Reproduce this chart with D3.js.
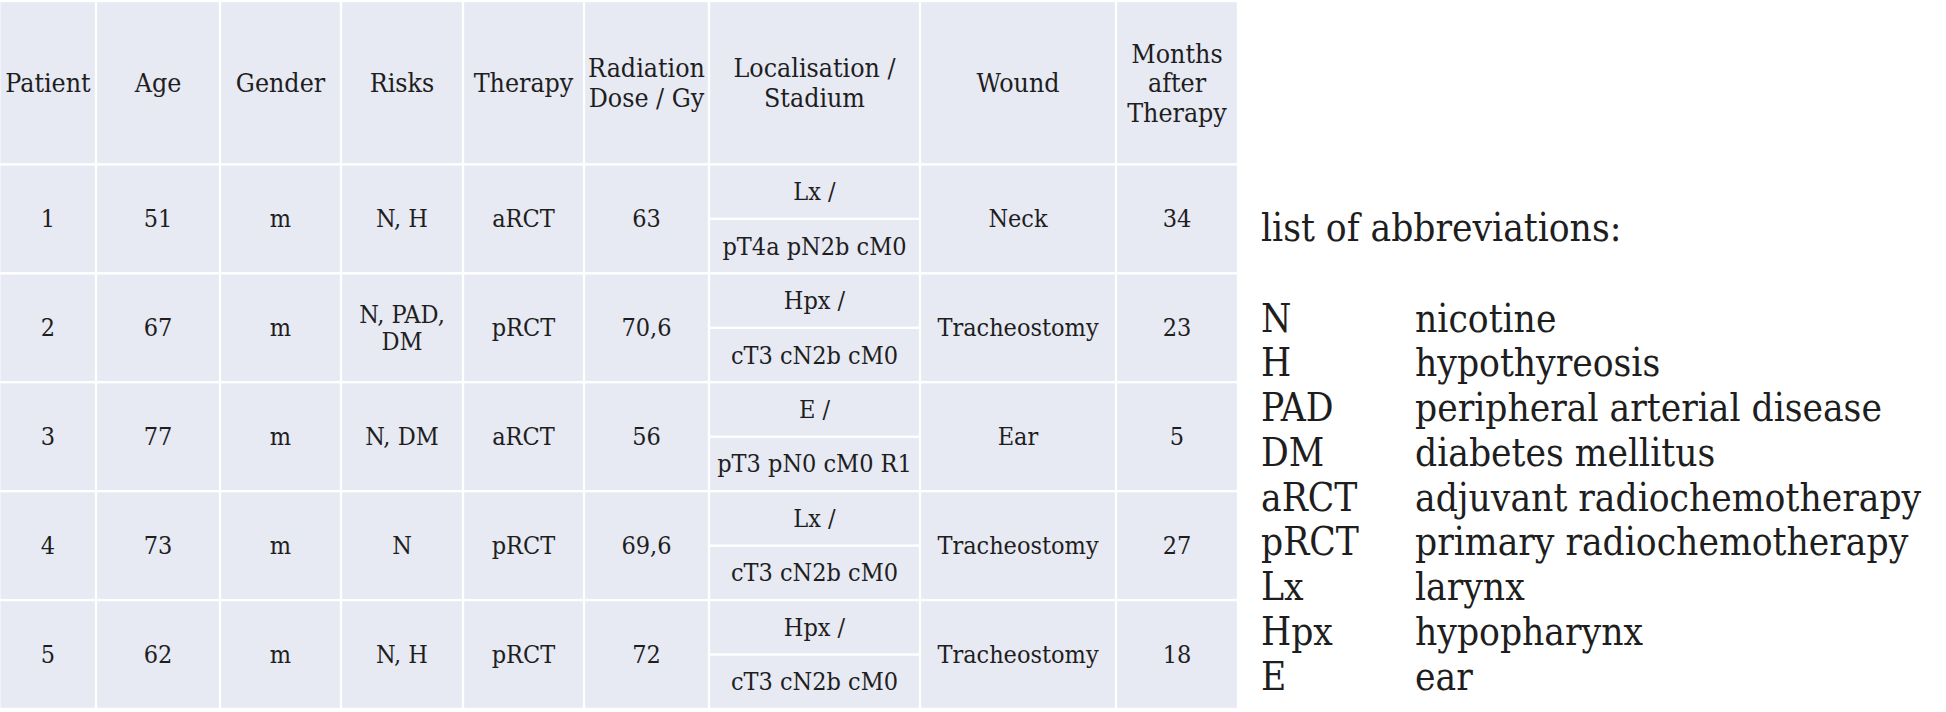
<!DOCTYPE html>
<html>
<head>
<meta charset="utf-8">
<script src="https://cdn.jsdelivr.net/npm/d3@7"></script>
<style>
  html, body { margin: 0; padding: 0; background: #ffffff; }
  svg { display: block; }
  text { font-family: "DejaVu Serif Condensed", "DejaVu Serif", serif; font-stretch: condensed; fill: #1e1e1e; }
</style>
</head>
<body>
<svg id="chart" width="1946" height="712"></svg>
<script>
// ---------- data ----------
const headers = [
  ["Patient"], ["Age"], ["Gender"], ["Risks"], ["Therapy"],
  ["Radiation", "Dose / Gy"], ["Localisation /", "Stadium"], ["Wound"],
  ["Months", "after", "Therapy"]
];
const patients = ["1", "2", "3", "4", "5"];
const ages = ["51", "67", "77", "73", "62"];
const genders = ["m", "m", "m", "m", "m"];
const risks = [["N, H"], ["N, PAD,", "DM"], ["N, DM"], ["N"], ["N, H"]];
const therapies = ["aRCT", "pRCT", "aRCT", "pRCT", "pRCT"];
const doses = ["63", "70,6", "56", "69,6", "72"];
const localisations = ["Lx /", "Hpx /", "E /", "Lx /", "Hpx /"];
const stadiums = ["pT4a pN2b cM0", "cT3 cN2b cM0", "pT3 pN0 cM0 R1", "cT3 cN2b cM0", "cT3 cN2b cM0"];
const wounds = ["Neck", "Tracheostomy", "Ear", "Tracheostomy", "Tracheostomy"];
const months = ["34", "23", "5", "27", "18"];
const abbrevTitle = "list of abbreviations:";
const abbrevKeys = ["N", "H", "PAD", "DM", "aRCT", "pRCT", "Lx", "Hpx", "E"];
const abbrevValues = ["nicotine", "hypothyreosis", "peripheral arterial disease", "diabetes mellitus",
  "adjuvant radiochemotherapy", "primary radiochemotherapy", "larynx", "hypopharynx", "ear"];

// ---------- layout ----------
const colWidths = [96, 124, 121, 122, 121, 125, 211, 196, 122];
const colEdges = [0];
colWidths.forEach(w => colEdges.push(colEdges[colEdges.length - 1] + w));
const colIdx = d3.range(colEdges.length);
const x = d3.scaleLinear().domain(colIdx).range(colEdges.map(e => e * (1238 / colEdges[colEdges.length - 1])));
// rows in units: header = 1.5 units, each patient row = 1 unit
const y = d3.scaleLinear().domain([0, 1.5 + patients.length]).range([1, 709]);
const gap = 1.2;
const cellFill = "#e7e9f3";
const headFs = 26.5;
const bodyFs = 25;
const lh = 29.5;

const svg = d3.select("#chart");
const g = svg.append("g");

function cell(c0, c1, yA, yB) {
  g.append("rect")
    .attr("x", x(c0) + (c0 === 0 ? 0.5 : gap))
    .attr("y", y(yA) + gap)
    .attr("width", x(c1) - x(c0) - (c0 === 0 ? 0.5 + gap : 2 * gap))
    .attr("height", y(yB) - y(yA) - 2 * gap)
    .attr("fill", cellFill);
}
function label(c0, c1, yA, yB, lines, size, spacing) {
  const cx = (x(c0) + x(c1)) / 2;
  const cy = (y(yA) + y(yB)) / 2;
  const n = lines.length;
  lines.forEach((t, i) => {
    g.append("text")
      .attr("x", cx)
      .attr("y", cy + (i - (n - 1) / 2) * (spacing || lh))
      .attr("text-anchor", "middle")
      .attr("dominant-baseline", "central")
      .style("font-size", size + "px")
      .text(t);
  });
}

// header
headers.forEach((h, i) => {
  cell(i, i + 1, 0, 1.5);
  label(i, i + 1, 0, 1.5, h, headFs);
});

// body rows
patients.forEach((p, r) => {
  const yA = 1.5 + r, yB = 2.5 + r, yM = 2 + r;
  const simple = [[p], [ages[r]], [genders[r]], risks[r], [therapies[r]], [doses[r]]];
  simple.forEach((val, c) => {
    cell(c, c + 1, yA, yB);
    label(c, c + 1, yA, yB, val, bodyFs, 27);
  });
  // localisation / stadium split
  cell(6, 7, yA, yM);
  label(6, 7, yA, yM, [localisations[r]], bodyFs);
  cell(6, 7, yM, yB);
  label(6, 7, yM, yB, [stadiums[r]], bodyFs);
  cell(7, 8, yA, yB);
  label(7, 8, yA, yB, [wounds[r]], bodyFs);
  cell(8, 9, yA, yB);
  label(8, 9, yA, yB, [months[r]], bodyFs);
});

// abbreviations list
const ay = d3.scaleLinear().domain([0, abbrevKeys.length - 1]).range([318, 676]);
const aFs = 38.5;
svg.append("text")
  .attr("x", 1261).attr("y", 227)
  .attr("dominant-baseline", "central")
  .style("font-size", aFs + "px")
  .text(abbrevTitle);
const ag = svg.append("g");
ag.selectAll("text.k").data(abbrevKeys).join("text")
  .attr("class", "k")
  .attr("x", 1261).attr("y", (d, i) => ay(i))
  .attr("dominant-baseline", "central")
  .style("font-size", aFs + "px")
  .text(d => d);
ag.selectAll("text.v").data(abbrevValues).join("text")
  .attr("class", "v")
  .attr("x", 1415).attr("y", (d, i) => ay(i))
  .attr("dominant-baseline", "central")
  .style("font-size", aFs + "px")
  .text(d => d);
</script>
</body>
</html>
